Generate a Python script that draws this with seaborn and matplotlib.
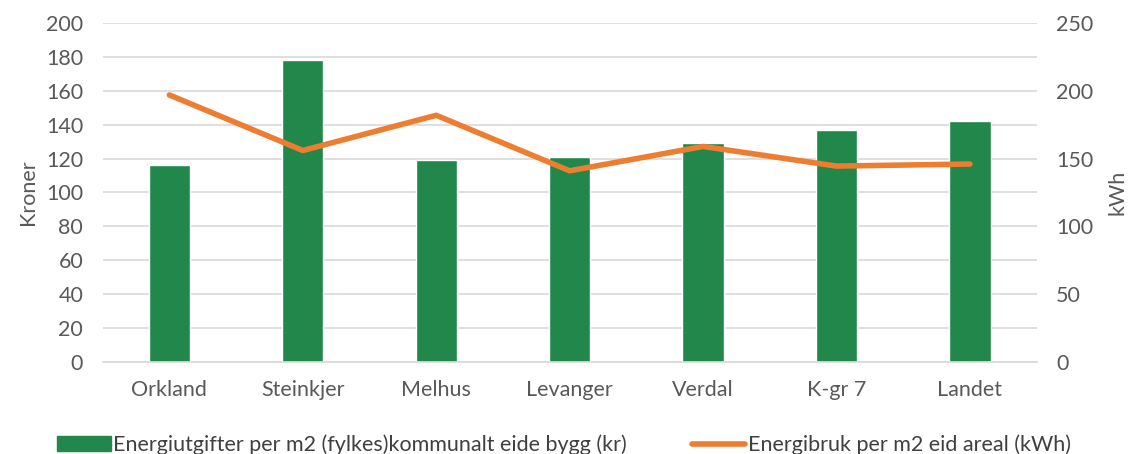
import matplotlib
matplotlib.use("Agg")
import matplotlib.pyplot as plt
import seaborn as sns
import pandas as pd
from matplotlib.patches import Patch
from matplotlib.lines import Line2D

categories = ["Orkland", "Steinkjer", "Melhus", "Levanger", "Verdal", "K-gr 7", "Landet"]
kroner = [116, 178, 119, 121, 129, 137, 142]
kwh = [197, 156, 182, 141, 159, 144.5, 146]

bar_label = "Energiutgifter per m2 (fylkes)kommunalt eide bygg (kr)"
line_label = "Energibruk per m2 eid areal (kWh)"

sns.set_theme(style="white")
plt.rcParams['font.family'] = ['Lato', 'DejaVu Sans']

green = "#21874A"
orange = "#ED7D31"
txt = "#595959"
fs = 15.5

df = pd.DataFrame({"cat": categories, "kr": kroner, "kwh": kwh})

fig = plt.figure(figsize=(11.28, 4.54), dpi=100)
ax = fig.add_axes([0.091, 0.203, 0.828, 0.746])
sns.barplot(data=df, x="cat", y="kr", color=green, saturation=1, width=0.31, ax=ax, zorder=2)
ax.set_ylim(0, 200)
ax.set_yticks(range(0, 201, 20))
ax.set_xlim(-0.5, 6.5)
ax.grid(axis="y", color="#D9D9D9", linewidth=1.2, zorder=0)
ax.set_axisbelow(True)
for s in ["top", "right", "left"]:
    ax.spines[s].set_visible(False)
ax.spines["bottom"].set_color("#D9D9D9")
ax.set_xlabel("")
ax.set_ylabel("Kroner", fontsize=fs, color=txt, labelpad=6)
ax.tick_params(axis="both", labelsize=fs, colors=txt, length=0)
ax.tick_params(axis="y", pad=14)
ax.tick_params(axis="x", pad=13)

ax2 = ax.twinx()
sns.lineplot(x=list(range(len(categories))), y=kwh, color=orange, linewidth=4, ax=ax2,
             solid_capstyle="round", solid_joinstyle="round")
ax2.set_ylim(0, 250)
ax2.set_yticks(range(0, 251, 50))
for s in ["top", "right", "left", "bottom"]:
    ax2.spines[s].set_visible(False)
ax2.set_ylabel("kWh", fontsize=fs, color=txt, labelpad=10)
ax2.tick_params(axis="y", labelsize=fs, colors=txt, length=0, pad=14)
ax2.set_xlim(-0.5, 6.5)

handles = [Patch(facecolor=green, edgecolor=green),
           Line2D([0], [0], color=orange, linewidth=4, solid_capstyle="round")]
fig.legend(handles, [bar_label, line_label], loc="lower center", ncol=2,
           bbox_to_anchor=(0.5, -0.045), frameon=False, fontsize=fs,
           labelcolor="#404040", handlelength=2.5, handletextpad=0.1, columnspacing=3.0)

fig.savefig("out.png", dpi=100)
